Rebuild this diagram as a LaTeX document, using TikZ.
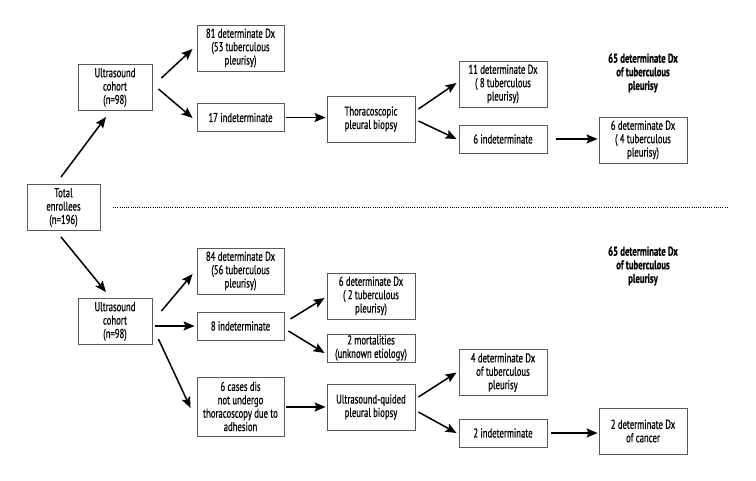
\documentclass[tikz,border=0pt]{standalone}
\usepackage{fontspec}
\setmainfont{PT Sans}[FakeStretch=0.68,FakeBold=0.6]
\usetikzlibrary{arrows.meta}
\tikzset{
  box/.style={draw=black!65, line width=0.9pt, fill=white, align=center, inner sep=0pt,
    minimum width=87pt, font=\fontsize{12.8}{13.4}\selectfont, text=black},
  h1/.style={minimum height=28pt},
  h3/.style={minimum height=46pt},
  h4/.style={minimum height=59pt},
  arr/.style={line width=1.5pt, -{Stealth[length=11pt,width=9pt,inset=2pt]}},
  lab/.style={align=center, font=\fontsize{12.8}{13.6}\selectfont\bfseries}
}
\begin{document}
\begin{tikzpicture}[x=1pt,y=-1pt]
\useasboundingbox (0,0) rectangle (756,480);
% nodes
\node[box,h3,minimum width=73pt] (total) at (63.5,207.5) {Total\\enrollees\\(n=196)};
\node[box,h3,minimum width=74pt] (us1) at (115,87.5) {Ultrasound\\cohort\\(n=98)};
\node[box,h3] (d81) at (240.5,48) {81 determinate Dx\\(53 tuberculous\\pleurisy)};
\node[box,h1] (ind17) at (240.5,117.5) {17 indeterminate};
\node[box,h3,minimum width=88pt] (thor) at (371,119) {Thoracoscopic\\pleural biopsy};
\node[box,h3,minimum width=88pt] (d11) at (503,84) {11 determinate Dx\\( 8 tuberculous\\pleurisy)};
\node[box,h1,minimum width=88pt] (ind6) at (503,139) {6 indeterminate};
\node[box,h3,minimum width=88pt] (d6) at (643,140) {6 determinate Dx\\( 4 tuberculous\\pleurisy)};
\node[lab] (lab65a) at (643,73) {65 determinate Dx\\of tuberculous\\pleurisy};
\node[box,h3,minimum width=74pt] (us2) at (115,321.5) {Ultrasound\\cohort\\(n=98)};
\node[box,h3] (d84) at (240.5,271) {84 determinate Dx\\(56 tuberculous\\pleurisy)};
\node[box,h1] (ind8) at (240.5,326) {8 indeterminate};
\node[box,h4] (cases6) at (240.5,406.5) {6 cases dis\\not undergo\\thoracoscopy due to\\adhesion};
\node[box,h3,minimum width=88pt] (d6b) at (371,296) {6 determinate Dx\\( 2 tuberculous\\pleurisy)};
\node[box,h1,minimum width=88pt] (mort2) at (371,348) {2 mortalities\\(unknown etiology)};
\node[box,h3,minimum width=88pt] (usg) at (371,407) {Ultrasound-quided\\pleural biopsy};
\node[box,h3,minimum width=88pt] (d4) at (503,372.5) {4 determinate Dx\\of tuberculous\\pleurisy};
\node[box,h1,minimum width=88pt] (ind2) at (503,433) {2 indeterminate};
\node[box,h3,minimum width=88pt] (d2c) at (643,431) {2 determinate Dx\\of cancer};
\node[lab] (lab65b) at (643,266) {65 determinate Dx\\of tuberculous\\pleurisy};
% dotted separator
\coordinate (sepL) at (113,207);
\coordinate (sepR) at (729,207);
\draw[line width=0.9pt, dash pattern=on 1pt off 1.2pt] (sepL) -- (sepR);
% arrows
\draw[arr] ([shift={(-2.5,-7)}]total.north) -- ([shift={(-9,6)}]us1.south);
\draw[arr] ([shift={(-2.5,6)}]total.south) -- ([shift={(-9,-6)}]us2.north);
\draw[arr] ([shift={(9,-9.5)}]us1.east) -- ([shift={(-4,1)}]d81.west);
\draw[arr] ([shift={(6,1.5)}]us1.east) -- ([shift={(-4,0.5)}]ind17.west);
\draw[arr] ([xshift=2pt]ind17.east) -- ([xshift=-1pt]ind17.east -| thor.west);
\draw[arr] ([shift={(3,-10)}]thor.east) -- ([shift={(-2,-1)}]d11.west);
\draw[arr] ([shift={(3,2)}]thor.east) -- ([shift={(-2,0)}]ind6.west);
\draw[arr] ([xshift=9pt]ind6.east) -- ([xshift=-1pt]ind6.east -| d6.west);
\draw[arr] ([shift={(9,-10.5)}]us2.east) -- ([shift={(-4,3)}]d84.west);
\draw[arr] ([xshift=3pt]us2.east |- ind8.west) -- ([xshift=-2pt]ind8.west);
\draw[arr] ([shift={(6,17.5)}]us2.east) -- ([shift={(-6,1.5)}]cases6.west);
\draw[arr] ([shift={(6,-7)}]ind8.east) -- ([shift={(-2,2)}]d6b.west);
\draw[arr] ([shift={(4,5)}]ind8.east) -- ([shift={(-2,5)}]mort2.west);
\draw[arr] ([xshift=2pt]cases6.east |- usg.west) -- ([xshift=-1pt]usg.west);
\draw[arr] ([shift={(3,-10)}]usg.east) -- ([shift={(-2,0)}]d4.west);
\draw[arr] ([shift={(3,5)}]usg.east) -- ([shift={(-2,0)}]ind2.west);
\draw[arr] ([xshift=4pt]ind2.east) -- ([xshift=-1pt]ind2.east -| d2c.west);
\end{tikzpicture}
\end{document}
